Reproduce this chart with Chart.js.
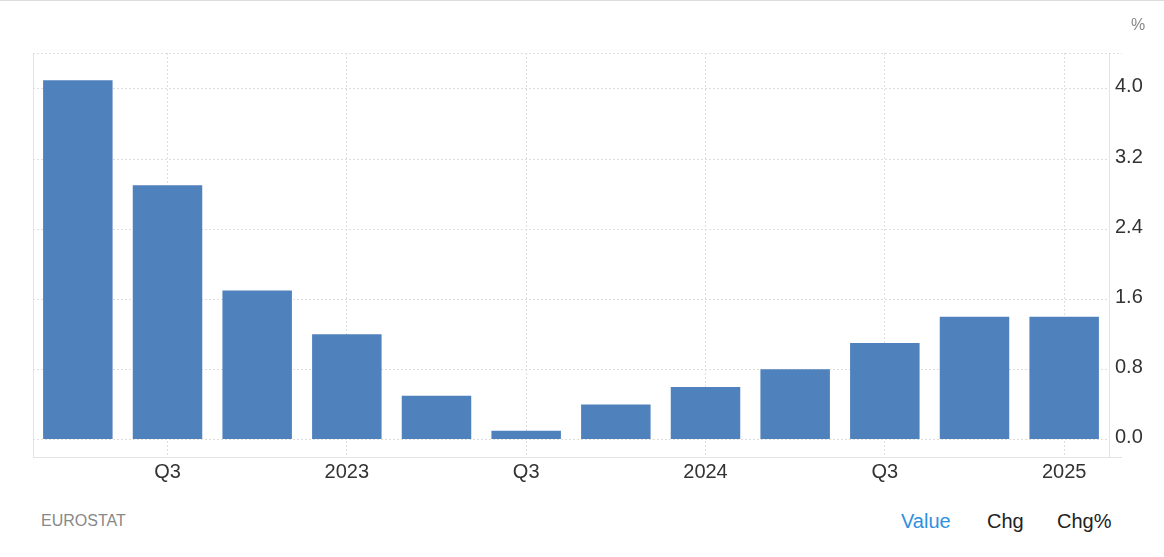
<!DOCTYPE html>
<html>
<head>
<meta charset="utf-8">
<script src="https://cdn.jsdelivr.net/npm/chart.js@4/dist/chart.umd.min.js"></script>
<style>
  body { margin: 0; background: #fff; font-family: "Liberation Sans", Arial, sans-serif; }
  #wrap { position: relative; width: 1164px; height: 557px; border-top: 1px solid #dcdcdc; box-sizing: border-box; }
  #box { position: absolute; left: 0; top: -1px; width: 1164px; height: 500px; }
  .txt { position: absolute; white-space: nowrap; line-height: 1; }
</style>
</head>
<body>
<div id="wrap">
  <div id="box"><canvas id="chart" width="1164" height="500"></canvas></div>
  <div class="txt" style="left:1131px; top:16px; font-size:16px; color:#888;">%</div>
  <div class="txt" style="left:41px; top:512px; font-size:16px; color:#888;">EUROSTAT</div>
  <div class="txt" style="left:901px; top:510px; font-size:20px; color:#2e90e0;">Value</div>
  <div class="txt" style="left:987px; top:510px; font-size:20px; color:#222;">Chg</div>
  <div class="txt" style="left:1057px; top:510px; font-size:20px; color:#222;">Chg%</div>
</div>
<script>
    "use strict";

    // quarters shown, 2022 Q2 .. 2025 Q1
    const quarters = ['2022 Q2', '2022 Q3', '2022 Q4', '2023 Q1', '2023 Q2', '2023 Q3',
                      '2023 Q4', '2024 Q1', '2024 Q2', '2024 Q3', '2024 Q4', '2025 Q1'];
    const values = [4.1, 2.9, 1.7, 1.2, 0.5, 0.1, 0.4, 0.6, 0.8, 1.1, 1.4, 1.4];
    const xTickLabels = ['', 'Q3', '', '2023', '', 'Q3', '', '2024', '', 'Q3', '', '2025'];
    const yTicks = [0, 0.8, 1.6, 2.4, 3.2, 4.0];

    const GRID = '#dedede';
    const LINE = '#e3e3e3';

    // left border, dotted top edge and the little overhang past the right axis
    const frame = {
        id: 'frame',
        beforeDatasetsDraw: function(chart) {
            const a = chart.chartArea;
            const ctx = chart.ctx;
            ctx.save();
            ctx.lineWidth = 1;
            ctx.strokeStyle = GRID;
            ctx.setLineDash([2, 2]);
            ctx.beginPath();
            ctx.moveTo(a.left, a.top + 0.5);
            ctx.lineTo(a.right + 13, a.top + 0.5);
            ctx.stroke();
            ctx.setLineDash([]);
            ctx.strokeStyle = LINE;
            ctx.beginPath();
            ctx.moveTo(a.left + 0.5, a.top);
            ctx.lineTo(a.left + 0.5, a.bottom);
            ctx.moveTo(a.right, a.bottom + 0.5);
            ctx.lineTo(a.right + 13, a.bottom + 0.5);
            ctx.stroke();
            ctx.restore();
        }
    };

    const ctx = document.getElementById('chart').getContext('2d');
    new Chart(ctx, {
        type: 'bar',
        data: {
            labels: quarters,
            datasets: [{
                data: values,
                backgroundColor: '#4f81bd',
                borderWidth: 0,
                categoryPercentage: 1,
                barPercentage: 0.775
            }]
        },
        options: {
            responsive: false,
            animation: false,
            devicePixelRatio: 1,
            layout: { padding: { left: 33, top: 53, right: 0, bottom: 0 } },
            plugins: {
                legend: { display: false },
                tooltip: { enabled: false }
            },
            scales: {
                x: {
                    offset: true,
                    grid: {
                        offset: false,
                        drawTicks: false,
                        color: c => xTickLabels[c.index] ? GRID : 'transparent'
                    },
                    border: { display: true, color: LINE, dash: [2, 2] },
                    ticks: {
                        autoSkip: false,
                        maxRotation: 0,
                        padding: 3,
                        color: '#333',
                        font: { family: '"Liberation Sans", Arial, sans-serif', size: 20 },
                        callback: function(v, i) { return xTickLabels[i]; }
                    },
                    afterFit: function(scale) { scale.height = 43; }
                },
                y: {
                    position: 'right',
                    min: -0.2,
                    max: 4.41,
                    grid: { drawTicks: false, color: GRID },
                    border: { display: true, color: LINE, dash: [2, 2] },
                    ticks: {
                        padding: 6,
                        labelOffset: -2,
                        color: '#333',
                        font: { family: '"Liberation Sans", Arial, sans-serif', size: 20 },
                        callback: function(v) { return v.toFixed(1); }
                    },
                    afterBuildTicks: function(scale) {
                        scale.ticks = yTicks.map(v => ({ value: v }));
                    },
                    afterFit: function(scale) { scale.width = 55; }
                }
            }
        },
        plugins: [frame]
    });
</script>
</body>
</html>
